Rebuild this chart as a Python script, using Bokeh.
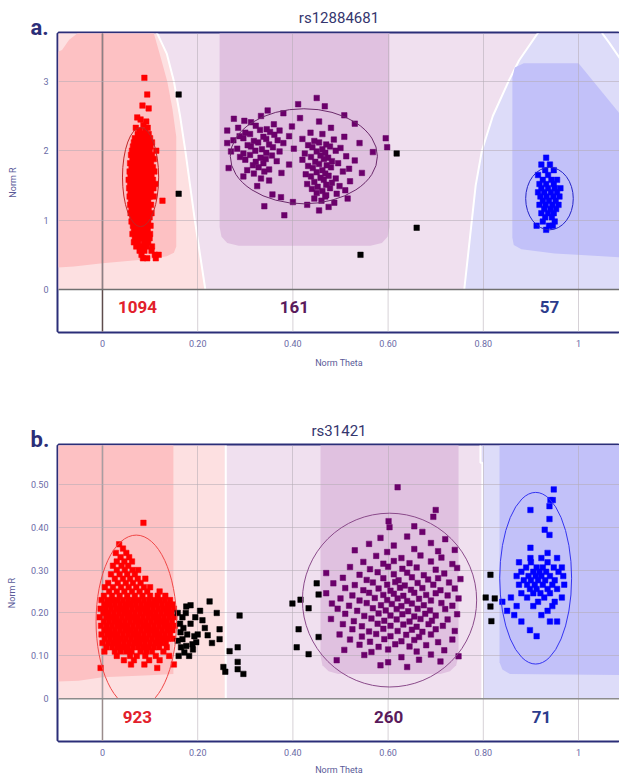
from bokeh.plotting import figure
from bokeh.layouts import column
from bokeh.models import FixedTicker, Range1d, Title
from bokeh.embed import file_html
from bokeh.resources import INLINE
from bokeh.core.properties import value

# ---------------- data ----------------
x_ticks = [0.0, 0.2, 0.4, 0.6, 0.8, 1.0]
x_tick_labels = ["0", "0.20", "0.40", "0.60", "0.80", "1"]
ya_ticks = [0.0, 1.0, 2.0, 3.0]
ya_tick_labels = ["0", "1", "2", "3"]
yb_ticks = [0.0, 0.1, 0.2, 0.3, 0.4, 0.5]
yb_tick_labels = ["0", "0.10", "0.20", "0.30", "0.40", "0.50"]

snp_a = "rs12884681"
snp_b = "rs31421"
counts_a = ["1094", "161", "57"]
counts_b = ["923", "260", "71"]

# cluster ellipses (theta, R, width, height)
ell_a = [(0.080, 1.62, 0.076, 1.43), (0.423, 1.92, 0.309, 1.37), (0.939, 1.31, 0.100, 0.90)]
ell_b = [(0.071, 0.180, 0.169, 0.403), (0.603, 0.230, 0.366, 0.405), (0.910, 0.281, 0.151, 0.400)]

# points of the dense clusters, written as rows: (Norm R, [Norm Theta values])
red_a_rows = [
    (3.05, [0.088]), (2.81, [0.094]), (2.65, [0.084]), (2.61, [0.097]), (2.48, [0.073]),
    (2.45, [0.080]), (2.42, [0.092]), (2.37, [0.086]), (2.33, [0.070, 0.095]),
    (2.29, [0.078, 0.090]),
    (2.24, [0.074, 0.082, 0.089, 0.097]),
    (2.18, [0.068, 0.076, 0.084, 0.091, 0.100]),
    (2.12, [0.066, 0.074, 0.081, 0.088, 0.096, 0.104]),
    (2.06, [0.064, 0.071, 0.079, 0.086, 0.093, 0.101]),
    (2.00, [0.062, 0.070, 0.077, 0.084, 0.091, 0.099, 0.113]),
    (1.94, [0.060, 0.068, 0.075, 0.082, 0.089, 0.096, 0.104]),
    (1.88, [0.063, 0.071, 0.078, 0.085, 0.092, 0.100, 0.108]),
    (1.82, [0.058, 0.066, 0.073, 0.080, 0.087, 0.094, 0.102]),
    (1.76, [0.061, 0.069, 0.076, 0.083, 0.090, 0.097, 0.106]),
    (1.70, [0.057, 0.064, 0.071, 0.078, 0.085, 0.092, 0.100, 0.109]),
    (1.64, [0.059, 0.067, 0.074, 0.081, 0.088, 0.095, 0.103]),
    (1.58, [0.055, 0.062, 0.069, 0.076, 0.083, 0.090, 0.097, 0.106]),
    (1.52, [0.058, 0.065, 0.072, 0.079, 0.086, 0.093, 0.101, 0.111]),
    (1.46, [0.056, 0.063, 0.070, 0.077, 0.084, 0.091, 0.098, 0.107]),
    (1.40, [0.059, 0.066, 0.073, 0.080, 0.087, 0.094, 0.102]),
    (1.34, [0.057, 0.064, 0.071, 0.078, 0.085, 0.092, 0.099, 0.108]),
    (1.28, [0.060, 0.068, 0.075, 0.082, 0.089, 0.096, 0.126]),
    (1.22, [0.058, 0.066, 0.073, 0.080, 0.087, 0.094, 0.102]),
    (1.16, [0.061, 0.069, 0.076, 0.083, 0.090, 0.097]),
    (1.10, [0.059, 0.067, 0.074, 0.081, 0.088, 0.095, 0.103]),
    (1.04, [0.063, 0.070, 0.077, 0.084, 0.091, 0.099]),
    (0.98, [0.061, 0.068, 0.075, 0.082, 0.089, 0.096]),
    (0.92, [0.064, 0.072, 0.079, 0.086, 0.093, 0.101]),
    (0.86, [0.066, 0.074, 0.081, 0.088, 0.095]),
    (0.80, [0.063, 0.071, 0.078, 0.085, 0.092, 0.100]),
    (0.74, [0.068, 0.077, 0.084, 0.091, 0.099]),
    (0.68, [0.066, 0.075, 0.087, 0.096]),
    (0.62, [0.071, 0.082, 0.093, 0.104]),
    (0.56, [0.078, 0.088, 0.103]),
    (0.50, [0.082, 0.110, 0.118]),
    (0.45, [0.085, 0.094, 0.112]),
]

# purple cluster a: (Norm Theta, Norm R)
purple_a_pts = [
    (0.450, 2.76), (0.411, 2.67), (0.467, 2.64), (0.347, 2.58),
    (0.333, 2.50), (0.380, 2.54), (0.508, 2.51), (0.276, 2.46), (0.298, 2.43), (0.415, 2.47),
    (0.312, 2.41), (0.360, 2.38), (0.455, 2.42), (0.530, 2.39),
    (0.285, 2.33), (0.322, 2.36), (0.345, 2.31), (0.398, 2.35), (0.480, 2.33),
    (0.262, 2.29), (0.300, 2.26), (0.331, 2.30), (0.352, 2.27), (0.372, 2.29), (0.437, 2.26),
    (0.288, 2.21), (0.310, 2.24), (0.338, 2.20), (0.361, 2.23), (0.392, 2.21), (0.462, 2.24),
    (0.508, 2.20), (0.595, 2.18),
    (0.275, 2.15), (0.296, 2.18), (0.318, 2.14), (0.344, 2.17), (0.368, 2.15), (0.420, 2.17),
    (0.445, 2.14), (0.486, 2.16),
    (0.262, 2.11), (0.305, 2.08), (0.327, 2.12), (0.350, 2.09), (0.380, 2.11), (0.432, 2.08),
    (0.455, 2.12), (0.470, 2.09), (0.540, 2.11), (0.598, 2.05),
    (0.283, 2.03), (0.312, 2.06), (0.335, 2.02), (0.358, 2.05), (0.402, 2.03), (0.441, 2.05),
    (0.462, 2.02), (0.478, 2.06), (0.500, 2.04),
    (0.270, 1.99), (0.296, 1.96), (0.321, 2.00), (0.344, 1.97), (0.372, 1.99), (0.425, 1.96),
    (0.450, 1.99), (0.468, 1.97), (0.490, 2.00), (0.568, 1.98),
    (0.289, 1.91), (0.310, 1.94), (0.332, 1.90), (0.356, 1.93), (0.438, 1.91), (0.458, 1.93),
    (0.474, 1.90), (0.512, 1.92),
    (0.300, 1.87), (0.322, 1.84), (0.343, 1.88), (0.366, 1.85), (0.420, 1.87), (0.447, 1.84),
    (0.465, 1.88), (0.482, 1.85), (0.530, 1.86),
    (0.316, 1.79), (0.338, 1.82), (0.392, 1.80), (0.432, 1.78), (0.455, 1.81), (0.471, 1.79),
    (0.495, 1.82),
    (0.265, 1.75), (0.304, 1.72), (0.328, 1.76), (0.350, 1.73), (0.442, 1.75), (0.462, 1.72),
    (0.480, 1.76), (0.518, 1.74),
    (0.318, 1.67), (0.340, 1.70), (0.376, 1.68), (0.427, 1.66), (0.450, 1.69), (0.468, 1.67),
    (0.505, 1.70), (0.545, 1.68),
    (0.296, 1.63), (0.333, 1.60), (0.438, 1.63), (0.458, 1.61), (0.475, 1.64), (0.490, 1.60),
    (0.350, 1.57), (0.445, 1.55), (0.465, 1.58), (0.482, 1.54), (0.520, 1.56),
    (0.325, 1.49), (0.430, 1.52), (0.452, 1.48), (0.470, 1.51), (0.498, 1.49),
    (0.440, 1.45), (0.462, 1.42), (0.478, 1.46), (0.510, 1.43),
    (0.357, 1.37), (0.450, 1.39), (0.470, 1.36), (0.492, 1.38),
    (0.375, 1.33), (0.445, 1.31), (0.468, 1.34), (0.515, 1.31),
    (0.400, 1.26), (0.460, 1.28), (0.487, 1.25),
    (0.340, 1.20), (0.430, 1.22), (0.475, 1.19), (0.455, 1.14), (0.382, 1.07),
]

blue_a_rows = [
    (1.90, [0.932]), (1.80, [0.922, 0.940]), (1.72, [0.930, 0.948]),
    (1.65, [0.915, 0.936]), (1.58, [0.925, 0.943, 0.955]),
    (1.52, [0.918, 0.932, 0.948]), (1.46, [0.922, 0.936, 0.950, 0.962]),
    (1.40, [0.915, 0.928, 0.942, 0.955]), (1.34, [0.920, 0.933, 0.947, 0.960]),
    (1.28, [0.925, 0.938, 0.952]), (1.22, [0.918, 0.931, 0.945, 0.958]),
    (1.16, [0.928, 0.941, 0.953]), (1.10, [0.922, 0.936, 0.948]),
    (1.04, [0.930, 0.944]), (0.98, [0.925, 0.950]),
    (0.92, [0.912, 0.938, 0.946]), (0.86, [0.932]),
]

black_a_theta = [0.160, 0.160, 0.618, 0.660, 0.542]
black_a_r = [2.81, 1.38, 1.96, 0.89, 0.50]

red_b_rows = [
    (0.410, [0.086]), (0.360, [0.035]), (0.350, [0.043]), (0.340, [0.028, 0.050]),
    (0.330, [0.038, 0.056]), (0.320, [0.030, 0.046, 0.062]), (0.310, [0.022, 0.040, 0.054]),
    (0.300, [0.030, 0.047, 0.063, 0.075]), (0.290, [0.018, 0.036, 0.052, 0.068]),
    (0.280, [0.026, 0.043, 0.058, 0.074, 0.090]), (0.270, [0.012, 0.032, 0.049, 0.064, 0.080]),
    (0.260, [0.005, 0.022, 0.039, 0.055, 0.071, 0.087, 0.100]),
    (0.250, [0.014, 0.030, 0.046, 0.062, 0.078, 0.094, 0.120]),
    (0.240, [0.003, 0.020, 0.036, 0.052, 0.068, 0.084, 0.100, 0.116, 0.132]),
    (0.230, [-0.002, 0.010, 0.021, 0.032, 0.043, 0.054, 0.065, 0.076, 0.087, 0.098, 0.109, 0.120, 0.131, 0.142]),
    (0.220, [0.004, 0.015, 0.026, 0.037, 0.048, 0.059, 0.070, 0.081, 0.092, 0.103, 0.114, 0.125, 0.136, 0.147]),
    (0.210, [-0.004, 0.007, 0.018, 0.029, 0.040, 0.051, 0.062, 0.073, 0.084, 0.095, 0.106, 0.117, 0.128, 0.139, 0.150]),
    (0.200, [0.002, 0.013, 0.024, 0.035, 0.046, 0.057, 0.068, 0.079, 0.090, 0.101, 0.112, 0.123, 0.134, 0.145]),
    (0.190, [-0.006, 0.008, 0.019, 0.030, 0.041, 0.052, 0.063, 0.074, 0.085, 0.096, 0.107, 0.118, 0.129, 0.140, 0.151]),
    (0.180, [0.003, 0.014, 0.025, 0.036, 0.047, 0.058, 0.069, 0.080, 0.091, 0.102, 0.113, 0.124, 0.135, 0.146]),
    (0.170, [-0.003, 0.009, 0.020, 0.031, 0.042, 0.053, 0.064, 0.075, 0.086, 0.097, 0.108, 0.119, 0.130, 0.141, 0.152]),
    (0.160, [0.004, 0.015, 0.026, 0.037, 0.048, 0.059, 0.070, 0.081, 0.092, 0.103, 0.114, 0.125, 0.136, 0.147]),
    (0.150, [-0.002, 0.010, 0.021, 0.032, 0.043, 0.054, 0.065, 0.076, 0.087, 0.098, 0.109, 0.120, 0.131, 0.142]),
    (0.140, [0.005, 0.016, 0.027, 0.038, 0.049, 0.060, 0.071, 0.082, 0.093, 0.104, 0.115, 0.126, 0.137, 0.148]),
    (0.130, [0.000, 0.012, 0.023, 0.034, 0.045, 0.056, 0.067, 0.078, 0.089, 0.100, 0.111, 0.122, 0.133]),
    (0.120, [0.008, 0.020, 0.031, 0.042, 0.053, 0.064, 0.075, 0.086, 0.097, 0.108, 0.119, 0.135]),
    (0.110, [0.004, 0.026, 0.038, 0.050, 0.061, 0.080, 0.092, 0.104, 0.128]),
    (0.100, [0.030, 0.058, 0.072, 0.090, 0.112, 0.140]),
    (0.090, [0.045, 0.066, 0.098, 0.120]),
    (0.080, [0.060, 0.088, 0.150]),
    (0.072, [-0.004, 0.115]),
]

black_b_theta = [0.168, 0.176, 0.185, 0.210, 0.225, 0.246, 0.221, 0.246, 0.267, 0.284,
                 0.288, 0.193, 0.189, 0.168, 0.164, 0.176, 0.254, 0.258, 0.284, 0.284,
                 0.296, 0.158, 0.163, 0.170, 0.178, 0.158, 0.165, 0.172, 0.160, 0.182,
                 0.190, 0.197, 0.200, 0.185, 0.195, 0.205, 0.175, 0.215, 0.230, 0.240,
                 0.399, 0.416, 0.433, 0.412, 0.450, 0.454, 0.454, 0.433, 0.408,
                 0.815, 0.805, 0.824, 0.815, 0.817]
black_b_r = [0.190, 0.215, 0.218, 0.183, 0.227, 0.162, 0.148, 0.139, 0.111, 0.120,
             0.194, 0.146, 0.127, 0.139, 0.155, 0.123, 0.074, 0.063, 0.086, 0.069,
             0.058, 0.200, 0.175, 0.165, 0.150, 0.135, 0.120, 0.108, 0.100, 0.100,
             0.115, 0.132, 0.150, 0.175, 0.190, 0.205, 0.200, 0.165, 0.130, 0.200,
             0.222, 0.231, 0.211, 0.162, 0.269, 0.243, 0.144, 0.104, 0.120,
             0.289, 0.236, 0.234, 0.215, 0.181]

# purple cluster b: (Norm Theta, Norm R)
purple_b_pts = [
    (0.620, 0.493), (0.700, 0.440), (0.695, 0.424), (0.601, 0.414), (0.603, 0.400),
    (0.655, 0.402), (0.672, 0.389), (0.584, 0.375), (0.640, 0.378), (0.720, 0.372),
    (0.560, 0.361), (0.612, 0.357), (0.690, 0.363),
    (0.530, 0.346), (0.598, 0.342), (0.655, 0.349), (0.705, 0.344), (0.740, 0.347),
    (0.575, 0.333), (0.628, 0.328), (0.668, 0.334), (0.712, 0.329),
    (0.548, 0.319), (0.590, 0.315), (0.612, 0.321), (0.645, 0.316), (0.690, 0.320), (0.735, 0.314),
    (0.520, 0.307), (0.562, 0.302), (0.600, 0.308), (0.630, 0.303), (0.660, 0.306), (0.700, 0.301),
    (0.745, 0.305),
    (0.470, 0.293), (0.540, 0.289), (0.578, 0.295), (0.612, 0.290), (0.640, 0.294), (0.675, 0.288),
    (0.718, 0.292),
    (0.505, 0.282), (0.555, 0.277), (0.590, 0.281), (0.622, 0.276), (0.650, 0.283), (0.684, 0.278),
    (0.705, 0.281), (0.752, 0.279),
    (0.485, 0.269), (0.530, 0.265), (0.568, 0.271), (0.598, 0.266), (0.615, 0.272), (0.635, 0.264),
    (0.662, 0.270), (0.695, 0.266), (0.728, 0.271),
    (0.510, 0.258), (0.548, 0.253), (0.580, 0.257), (0.605, 0.252), (0.625, 0.259), (0.648, 0.254),
    (0.672, 0.258), (0.710, 0.253), (0.740, 0.257),
    (0.470, 0.246), (0.525, 0.241), (0.560, 0.247), (0.590, 0.242), (0.612, 0.245), (0.632, 0.240),
    (0.655, 0.247), (0.680, 0.242), (0.700, 0.246), (0.725, 0.241),
    (0.500, 0.234), (0.540, 0.229), (0.572, 0.235), (0.598, 0.230), (0.620, 0.234), (0.640, 0.228),
    (0.665, 0.233), (0.690, 0.229), (0.748, 0.234),
    (0.482, 0.222), (0.518, 0.217), (0.555, 0.223), (0.585, 0.218), (0.608, 0.221), (0.628, 0.216),
    (0.650, 0.222), (0.675, 0.218), (0.712, 0.223), (0.735, 0.217),
    (0.494, 0.210), (0.535, 0.205), (0.568, 0.211), (0.595, 0.206), (0.618, 0.209), (0.642, 0.204),
    (0.662, 0.210), (0.688, 0.206), (0.720, 0.209),
    (0.510, 0.198), (0.550, 0.193), (0.580, 0.199), (0.605, 0.194), (0.630, 0.197), (0.655, 0.192),
    (0.678, 0.198), (0.700, 0.194), (0.745, 0.197),
    (0.480, 0.186), (0.528, 0.181), (0.565, 0.187), (0.592, 0.182), (0.618, 0.185), (0.645, 0.180),
    (0.668, 0.186), (0.692, 0.182), (0.725, 0.185),
    (0.505, 0.174), (0.545, 0.169), (0.578, 0.175), (0.605, 0.170), (0.632, 0.173), (0.660, 0.168),
    (0.685, 0.174), (0.715, 0.170),
    (0.525, 0.162), (0.560, 0.157), (0.590, 0.163), (0.620, 0.158), (0.650, 0.161), (0.672, 0.156),
    (0.700, 0.162), (0.740, 0.158),
    (0.498, 0.150), (0.545, 0.145), (0.575, 0.151), (0.605, 0.146), (0.638, 0.149), (0.665, 0.144),
    (0.690, 0.150),
    (0.520, 0.138), (0.562, 0.133), (0.592, 0.139), (0.628, 0.134), (0.655, 0.137), (0.705, 0.132),
    (0.735, 0.138),
    (0.540, 0.126), (0.580, 0.121), (0.615, 0.127), (0.645, 0.122), (0.680, 0.125),
    (0.508, 0.114), (0.565, 0.109), (0.600, 0.115), (0.660, 0.110), (0.718, 0.113),
    (0.550, 0.102), (0.628, 0.097), (0.690, 0.103), (0.748, 0.099),
    (0.492, 0.090), (0.600, 0.085), (0.665, 0.091), (0.710, 0.087),
    (0.584, 0.078), (0.640, 0.074),
]

blue_b_rows = [
    (0.488, [0.948]), (0.463, [0.941, 0.946]), (0.449, [0.939]), (0.440, [0.899]),
    (0.419, [0.939]), (0.394, [0.929]), (0.382, [0.939]), (0.352, [0.899]),
    (0.340, [0.935]), (0.328, [0.899, 0.922, 0.955]), (0.318, [0.875, 0.900, 0.935]),
    (0.306, [0.890, 0.912, 0.925, 0.948, 0.965]),
    (0.296, [0.880, 0.905, 0.918, 0.932, 0.958]),
    (0.286, [0.870, 0.895, 0.910, 0.922, 0.940, 0.968]),
    (0.276, [0.885, 0.900, 0.915, 0.930, 0.950]),
    (0.266, [0.875, 0.892, 0.908, 0.925, 0.945, 0.970]),
    (0.256, [0.898, 0.912, 0.935, 0.955]),
    (0.246, [0.880, 0.905, 0.920, 0.940]),
    (0.236, [0.858, 0.892, 0.928, 0.965]),
    (0.226, [0.840, 0.915, 0.950]),
    (0.216, [0.870, 0.905, 0.945]),
    (0.205, [0.850, 0.935]),
    (0.195, [0.865, 0.922]),
    (0.180, [0.880, 0.940, 0.955]),
    (0.160, [0.898]),
    (0.146, [0.912]),
]

# ---------------- styling / geometry ----------------
NAVY = "#2b2e78"
TICK_C = "#6a6aa6"
LAB_C = "#5a5a98"
GRID_C = "#b4acb4"
LAV, LPINK, DPINK = "#f0e0ef", "#fde0e1", "#fdc1c3"
DPURP, LBLUE, DBLUE = "#e0c1e0", "#dddcf9", "#c2c1f9"
XMIN, XMAX = -0.15, 1.15
X_START, X_END = -0.0924, 1.0861
FONT = "Roboto"
MS = 5.5


def flatten(rows):
    xs, ys = [], []
    for r, ts in rows:
        for t in ts:
            xs.append(t)
            ys.append(r)
    return xs, ys


def unzip(pts):
    return [q[0] for q in pts], [q[1] for q in pts]


def make_fig(height, y_start, y_end, top, bottom, yticks, ylabels, ylab_standoff,
             xtick_standoff, xlab_standoff):
    p = figure(width=619, height=height, title=None,
               x_range=Range1d(X_START, X_END), y_range=Range1d(y_start, y_end),
               output_backend="svg", toolbar_location=None,
               min_border_left=58, min_border_right=0,
               min_border_top=top, min_border_bottom=bottom)
    p.background_fill_color = "white"
    p.border_fill_color = "white"
    p.outline_line_color = NAVY
    p.outline_line_width = 4
    xa, ya = p.xaxis[0], p.yaxis[0]
    xa.ticker = FixedTicker(ticks=x_ticks)
    xa.major_label_overrides = dict(zip(x_ticks, x_tick_labels))
    ya.ticker = FixedTicker(ticks=yticks)
    ya.major_label_overrides = dict(zip(yticks, ylabels))
    xa.axis_label = "Norm Theta"
    ya.axis_label = "Norm R"
    for ax in (xa, ya):
        ax.axis_line_color = None
        ax.major_tick_line_color = None
        ax.minor_tick_line_color = None
        ax.major_tick_out = 0
        ax.major_label_text_font = FONT
        ax.major_label_text_font_size = "9px"
        ax.major_label_text_color = TICK_C
        ax.axis_label_text_font = FONT
        ax.axis_label_text_font_size = "9px"
        ax.axis_label_text_font_style = "normal"
        ax.axis_label_text_color = LAB_C
    xa.major_label_standoff = xtick_standoff
    xa.axis_label_standoff = xlab_standoff
    ya.major_label_standoff = 10
    ya.axis_label_standoff = ylab_standoff
    p.xgrid.ticker = FixedTicker(ticks=x_ticks)
    p.ygrid.ticker = FixedTicker(ticks=yticks)
    for g in (p.xgrid, p.ygrid):
        g.grid_line_color = GRID_C
        g.grid_line_alpha = 0.55
        g.grid_line_width = 1
    return p


def add_titles(p, letter, snp, letter_standoff, snp_standoff):
    p.add_layout(Title(text=letter, align="left", offset=-28, standoff=letter_standoff,
                       vertical_align="bottom", text_font=FONT, text_font_size="22px",
                       text_font_style="bold", text_color=NAVY), "above")
    p.add_layout(Title(text=snp, align="center", standoff=snp_standoff,
                       vertical_align="bottom", text_font=FONT, text_font_size="15px",
                       text_font_style="normal", text_color="#35366e"), "above")


def zone(p, pts, color):
    p.patch([q[0] for q in pts], [q[1] for q in pts], fill_color=color,
            line_color=None, level="image")


def wline(p, pts, width=2):
    p.line([q[0] for q in pts], [q[1] for q in pts], line_color="white",
           line_width=width, level="image")


def finish(p, y_start, y_end, ells, ell_colors, groups, counts, count_x, count_y,
           axis0_color, zero_color):
    p.segment(x0=[0], y0=[y_start - 1], x1=[0], y1=[y_end + 1],
              line_color=axis0_color, line_width=1.5, level="underlay")
    for (xs, ys, col) in groups:
        p.scatter(xs, ys, marker="square", size=MS, fill_color=col, line_color=col,
                  line_width=0.5)
    for (cx, cy, w, h), col in zip(ells, ell_colors):
        p.ellipse(x=[cx], y=[cy], width=[w], height=[h], fill_color=None,
                  line_color=col, line_width=1)
    # white band below R = 0
    p.quad(left=[XMIN], right=[XMAX], bottom=[y_start - 1], top=[0],
           fill_color="white", line_color=None)
    p.segment(x0=x_ticks, y0=[y_start - 1] * len(x_ticks), x1=x_ticks,
              y1=[0] * len(x_ticks), line_color=GRID_C, line_alpha=0.55, line_width=1)
    p.segment(x0=[0], y0=[y_start - 1], x1=[0], y1=[0],
              line_color=axis0_color, line_width=1.5)
    p.segment(x0=[XMIN], y0=[0], x1=[XMAX], y1=[0], line_color=zero_color,
              line_width=1.5)
    p.text(x=count_x, y=[count_y] * 3, text=counts,
           text_color=["#e2202b", "#5a1b5c", "#2c3c8c"],
           text_font=value(FONT), text_font_style="bold", text_font_size="17px",
           text_align="center", text_baseline="middle")


# ---------------- panel a ----------------
YA0, YA1 = -0.605, 3.689
pa = make_fig(421, YA0, YA1, 33, 90, ya_ticks, ya_tick_labels, 22, 8, 8)
TA = 3.9
zone(pa, [(XMIN, 0), (XMAX, 0), (XMAX, TA), (XMIN, TA)], LAV)
pink_a_edge = [(0.110, TA), (0.115, 3.69), (0.135, 3.4), (0.150, 3.0), (0.163, 2.5),
               (0.174, 2.0), (0.184, 1.5), (0.194, 1.0), (0.205, 0.5), (0.216, 0.0)]
zone(pa, [(XMIN, 0), (XMIN, TA)] + pink_a_edge, LPINK)
zone(pa, [(XMIN, 0.30), (XMIN, 3.26), (-0.085, 3.45), (-0.070, 3.6), (-0.053, 3.69),
          (-0.050, TA), (0.100, TA), (0.108, 3.69), (0.122, 3.35), (0.136, 3.0),
          (0.147, 2.6), (0.155, 2.2), (0.155, 0.62), (0.150, 0.53), (0.135, 0.48),
          (0.100, 0.44), (0.000, 0.38), (-0.060, 0.33)], DPINK)
wline(pa, pink_a_edge)
zone(pa, [(0.246, TA), (0.246, 0.90), (0.250, 0.76), (0.262, 0.67), (0.286, 0.63),
          (0.563, 0.63), (0.587, 0.67), (0.599, 0.76), (0.603, 0.90), (0.603, TA)], DPURP)
blue_a_edge = [(0.922, TA), (0.914, 3.69), (0.875, 3.3), (0.853, 3.0), (0.820, 2.5),
               (0.797, 2.0), (0.784, 1.5), (0.776, 1.0), (0.768, 0.5), (0.760, 0.0)]
zone(pa, blue_a_edge + [(XMAX, 0), (XMAX, TA)], LBLUE)
wline(pa, blue_a_edge)
zone(pa, [(0.861, 3.05), (0.866, 3.2), (0.885, 3.26), (1.000, 3.26), (XMAX, 2.0),
          (XMAX, 0.44), (0.950, 0.52), (0.880, 0.58), (0.864, 0.64), (0.861, 0.75)], DBLUE)
wline(pa, [(1.048, TA), (1.050, 3.69), (1.065, 3.55), (1.090, 3.3)])

rx, ry = flatten(red_a_rows)
px_, py_ = unzip(purple_a_pts)
bx, by = flatten(blue_a_rows)
finish(pa, YA0, YA1, ell_a, ["#c02828", "#6a2a6a", "#2424c8"],
       [(rx, ry, "#ff0000"), (px_, py_, "#6b006b"), (bx, by, "#0000ff"),
        (black_a_theta, black_a_r, "#000000")],
       counts_a, [0.0735, 0.403, 0.939], -0.259, "#5e4c4c", "#707070")
add_titles(pa, "a.", snp_a, -13, -14)

# ---------------- panel b ----------------
YB0, YB1 = -0.0972, 0.5903
pb = make_fig(356, YB0, YB1, 24, 35, yb_ticks, yb_tick_labels, 11, 8, 6)
TB = 0.7
zone(pb, [(XMIN, 0), (XMAX, 0), (XMAX, TB), (XMIN, TB)], LAV)
zone(pb, [(XMIN, 0), (XMIN, TB), (0.257, TB), (0.257, 0)], LPINK)
zone(pb, [(XMIN, 0.038), (XMIN, TB), (0.149, TB), (0.149, 0.058), (0.100, 0.055),
          (0.000, 0.050), (-0.050, 0.042)], DPINK)
wline(pb, [(0.259, TB), (0.259, 0)])
zone(pb, [(0.458, TB), (0.458, 0.10), (0.462, 0.078), (0.475, 0.064), (0.495, 0.058),
          (0.710, 0.058), (0.730, 0.064), (0.743, 0.078), (0.748, 0.10), (0.748, TB)], DPURP)
zone(pb, [(0.797, 0), (0.797, TB), (XMAX, TB), (XMAX, 0)], LBLUE)
wline(pb, [(0.794, TB), (0.794, 0.55), (0.798, 0.55), (0.798, 0)])
zone(pb, [(0.834, TB), (0.834, 0.085), (0.840, 0.068), (0.856, 0.058), (XMAX, 0.055),
          (XMAX, TB)], DBLUE)

rx, ry = flatten(red_b_rows)
px_, py_ = unzip(purple_b_pts)
bx, by = flatten(blue_b_rows)
finish(pb, YB0, YB1, ell_b, ["#f04848", "#8a4a8a", "#3434f0"],
       [(rx, ry, "#ff0000"), (black_b_theta, black_b_r, "#000000"),
        (px_, py_, "#6b006b"), (bx, by, "#0000ff")],
       counts_b, [0.0735, 0.601, 0.922], -0.0417, "#9a8c8c", "#8c8c8c")
add_titles(pb, "b.", snp_b, -13, -16)

layout = column(pa, pb)
open("out.html", "w").write(file_html(layout, INLINE))
